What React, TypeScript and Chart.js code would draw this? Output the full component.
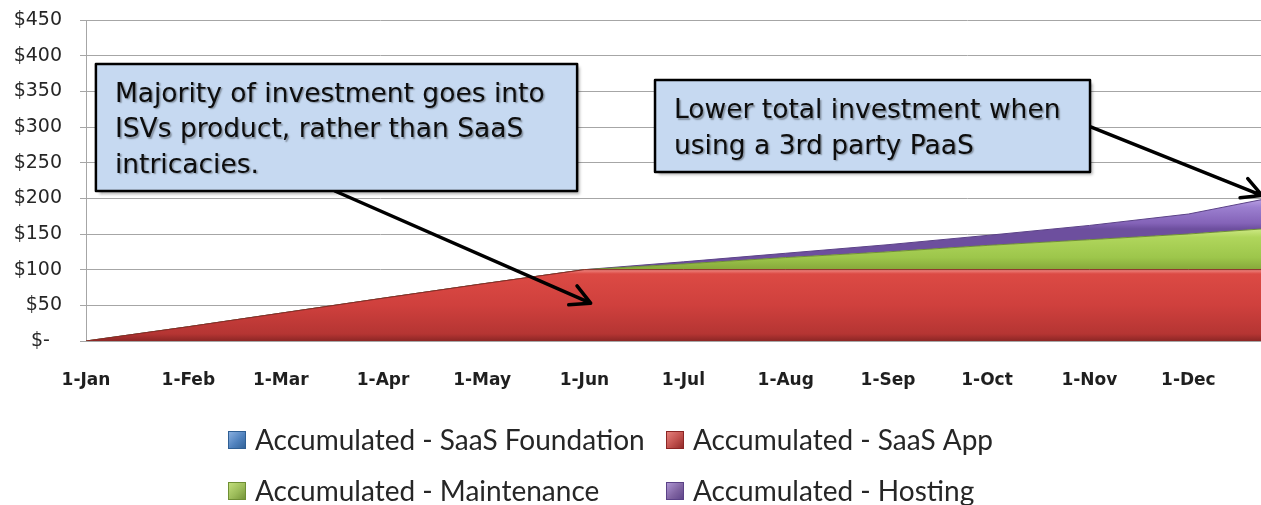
import React, { useEffect, useRef } from "react";
import { Chart, registerables } from "chart.js";

Chart.register(...registerables);

const W = 1261;
const H = 505;

// ---- data ----
const monthLabels = ["1-Jan", "1-Feb", "1-Mar", "1-Apr", "1-May", "1-Jun", "1-Jul", "1-Aug", "1-Sep", "1-Oct", "1-Nov", "1-Dec"];
const monthDays = [0, 31, 59, 90, 120, 151, 181, 212, 243, 273, 304, 334];
const pointDays = [0, 31, 59, 90, 120, 151, 181, 212, 243, 273, 304, 334, 356];
const saasFoundation = [0, 0, 0, 0, 0, 0, 0, 0, 0, 0, 0, 0, 0];
const saasApp = [0, 20, 39, 60, 80, 100, 100, 100, 100, 100, 100, 100, 100];
const maintenance = [0, 0, 0, 0, 0, 0, 8, 17, 25, 34, 42, 50, 57];
const hosting = [0, 0, 0, 0, 0, 0, 3, 6, 10, 14, 20, 28, 41];
const yTickValues = [0, 50, 100, 150, 200, 250, 300, 350, 400, 450];
const yTickLabels = ["$-  ", "$50", "$100", "$150", "$200", "$250", "$300", "$350", "$400", "$450"];
const seriesLabels = [
  "Accumulated - SaaS Foundation",
  "Accumulated - SaaS App",
  "Accumulated - Maintenance",
  "Accumulated - Hosting",
];

// ---- styles ----
const seriesBase = ["#4f81bd", "#c0504d", "#9bbb59", "#8064a2"];
const seriesLight = ["#8fb4e3", "#e88580", "#c6e27f", "#b29ad8"];
const seriesDark = ["#2f5f94", "#8c2625", "#6f8f34", "#5b4287"];
const bandStops: [number, string][][] = [
  [[0, "#8fb4e3"], [0.5, "#4f81bd"], [1, "#2f5f94"]],
  [[0, "#f08a84"], [0.06, "#dc4a44"], [0.5, "#cf403d"], [0.9, "#b53533"], [1, "#8c2625"]],
  [[0, "#cde883"], [0.2, "#b0d65c"], [0.7, "#9dc64b"], [1, "#86a83a"]],
  [[0, "#b79de2"], [0.25, "#9c80d0"], [0.8, "#8463b8"], [1, "#6d4f9e"]],
];

const callouts = [
  {
    lines: ["Majority of investment goes into", "ISVs product, rather than SaaS", "intricacies."],
    box: [3.0, 388.3, 148.8, 210.3],
    from: [75.4, 210.3],
    to: [152.9, 53.0],
  },
  {
    lines: ["Lower total investment when", "using a 3rd party PaaS"],
    box: [172.4, 365.9, 304.2, 236.9],
    from: [304.2, 300.5],
    to: [356.3, 204.0],
  },
];

const legendLayout = { left: 228, colWidth: 438, rowY: [440, 491], box: 18, gap: 9 };

function stackTop(idx: number): number[] {
  const all = [saasFoundation, saasApp, maintenance, hosting];
  return pointDays.map((_, i) => {
    let s = 0;
    for (let k = 0; k <= idx; k++) s += all[k][i];
    return s;
  });
}

function bandGradient(chart: any, idx: number) {
  const { ctx, chartArea, scales } = chart;
  if (!chartArea) return seriesBase[idx];
  const top = Math.max(...stackTop(idx));
  const bottom = idx === 0 ? 0 : Math.max(...stackTop(idx - 1));
  let y0 = scales.y.getPixelForValue(top);
  let y1 = scales.y.getPixelForValue(bottom);
  if (Math.abs(y1 - y0) < 1) y0 = y1 - 1;
  const g = ctx.createLinearGradient(0, y0, 0, y1);
  bandStops[idx].forEach(([o, c]) => g.addColorStop(o, c));
  return g;
}

const calloutPlugin = {
  id: "callouts",
  afterDatasetsDraw(chart: any) {
    const { ctx, scales } = chart;
    const px = (v: number) => scales.x.getPixelForValue(v);
    const py = (v: number) => scales.y.getPixelForValue(v);
    ctx.save();
    callouts.forEach((c) => {
      // arrow
      const x0 = px(c.from[0]), y0 = py(c.from[1]);
      const x1 = px(c.to[0]), y1 = py(c.to[1]);
      ctx.strokeStyle = "#000";
      ctx.lineWidth = 3.5;
      ctx.lineCap = "round";
      ctx.lineJoin = "round";
      ctx.beginPath();
      ctx.moveTo(x0, y0);
      ctx.lineTo(x1, y1);
      const ang = Math.atan2(y1 - y0, x1 - x0);
      const hl = 22, ha = (28 * Math.PI) / 180;
      ctx.moveTo(x1 - hl * Math.cos(ang - ha), y1 - hl * Math.sin(ang - ha));
      ctx.lineTo(x1, y1);
      ctx.lineTo(x1 - hl * Math.cos(ang + ha), y1 - hl * Math.sin(ang + ha));
      ctx.stroke();

      // box
      const bl = px(c.box[0]), bt = py(c.box[1]), br = px(c.box[2]), bb = py(c.box[3]);
      ctx.save();
      ctx.shadowColor = "rgba(0,0,0,0.35)";
      ctx.shadowOffsetX = 3;
      ctx.shadowOffsetY = 3;
      ctx.shadowBlur = 3;
      ctx.fillStyle = "#c6d9f1";
      ctx.fillRect(bl, bt, br - bl, bb - bt);
      ctx.restore();
      ctx.lineWidth = 2.5;
      ctx.strokeStyle = "#000";
      ctx.strokeRect(bl, bt, br - bl, bb - bt);

      // text
      const lh = 35.5;
      const cy = (bt + bb) / 2 + 3;
      const firstY = cy - ((c.lines.length - 1) * lh) / 2;
      ctx.font = "26.5px 'DejaVu Sans'";
      ctx.textAlign = "left";
      ctx.textBaseline = "middle";
      c.lines.forEach((line, i) => {
        ctx.save();
        ctx.shadowColor = "rgba(0,0,0,0.35)";
        ctx.shadowOffsetX = 1.5;
        ctx.shadowOffsetY = 1.5;
        ctx.shadowBlur = 1.5;
        ctx.fillStyle = "#0d0d0d";
        ctx.fillText(line, bl + 19, firstY + i * lh);
        ctx.restore();
      });
    });
    ctx.restore();
  },
};

const legendPlugin = {
  id: "gridLegend",
  afterDraw(chart: any) {
    const { ctx } = chart;
    const L = legendLayout;
    ctx.save();
    ctx.font = "28px Lato";
    ctx.textAlign = "left";
    ctx.textBaseline = "middle";
    chart.data.datasets.forEach((ds: any, i: number) => {
      const col = i % 2;
      const row = Math.floor(i / 2);
      const x = L.left + col * L.colWidth;
      const y = L.rowY[row];
      const g = ctx.createLinearGradient(x, y - L.box / 2, x + L.box, y + L.box / 2);
      g.addColorStop(0, seriesLight[i]);
      g.addColorStop(0.55, seriesBase[i]);
      g.addColorStop(1, seriesDark[i]);
      ctx.fillStyle = g;
      ctx.fillRect(x, y - L.box / 2, L.box, L.box);
      ctx.strokeStyle = seriesDark[i];
      ctx.lineWidth = 1;
      ctx.strokeRect(x + 0.5, y - L.box / 2 + 0.5, L.box - 1, L.box - 1);
      ctx.fillStyle = "#262626";
      ctx.fillText(ds.label, x + L.box + L.gap, y + 1);
    });
    ctx.restore();
  },
};

export default function App() {
  const canvasRef = useRef<HTMLCanvasElement | null>(null);

  useEffect(() => {
    const canvas = canvasRef.current;
    if (!canvas) return;
    const series = [saasFoundation, saasApp, maintenance, hosting];
    const chart = new Chart(canvas, {
      type: "line",
      data: {
        datasets: series.map((arr, i) => ({
          label: seriesLabels[i],
          data: pointDays.map((d, k) => ({ x: d, y: arr[k] })),
          fill: i === 0 ? "origin" : "-1",
          backgroundColor: (c: any) => bandGradient(c.chart, i),
          borderColor: seriesDark[i],
          borderWidth: i === 0 ? 0 : 1,
          pointRadius: 0,
          tension: 0,
        })),
      },
      options: {
        animation: false,
        responsive: false,
        layout: { padding: { top: 20, left: 0, right: 0, bottom: 0 } },
        plugins: { legend: { display: false }, tooltip: { enabled: false } },
        scales: {
          x: {
            type: "linear",
            min: 0,
            max: 356,
            grid: { display: false, drawTicks: false },
            border: { display: true, color: "#a6a6a6", width: 1 },
            afterBuildTicks: (scale: any) => {
              scale.ticks = monthDays.map((v) => ({ value: v }));
            },
            afterFit: (scale: any) => {
              scale.height = 164;
              scale.paddingLeft = 0;
              scale.paddingRight = 0;
            },
            ticks: {
              autoSkip: false,
              maxRotation: 0,
              padding: 29,
              color: "#1f1f1f",
              font: { family: "'DejaVu Sans'", size: 17, weight: "bold" },
              callback: (v: any) => {
                const idx = monthDays.indexOf(Number(v));
                return idx >= 0 ? monthLabels[idx] : "";
              },
            },
          },
          y: {
            stacked: true,
            min: 0,
            max: 450,
            grid: { color: "#a6a6a6", lineWidth: 1, drawTicks: true, tickLength: 6 },
            border: { display: true, color: "#a6a6a6", width: 1 },
            afterBuildTicks: (scale: any) => {
              scale.ticks = yTickValues.map((v) => ({ value: v }));
            },
            afterFit: (scale: any) => {
              scale.width = 86;
              scale.paddingTop = 0;
              scale.paddingBottom = 0;
            },
            ticks: {
              padding: 18,
              color: "#262626",
              font: { family: "'DejaVu Sans'", size: 19 },
              callback: (v: any) => {
                const idx = yTickValues.indexOf(Number(v));
                return idx >= 0 ? yTickLabels[idx] : "";
              },
            },
          },
        },
      } as any,
      plugins: [calloutPlugin, legendPlugin],
    });
    return () => chart.destroy();
  }, []);

  return (
    <div style={{ position: "absolute", left: 0, top: 0, width: W, height: H, background: "#fff" }}>
      <canvas ref={canvasRef} width={W} height={H} style={{ display: "block", width: W, height: H }} />
    </div>
  );
}
